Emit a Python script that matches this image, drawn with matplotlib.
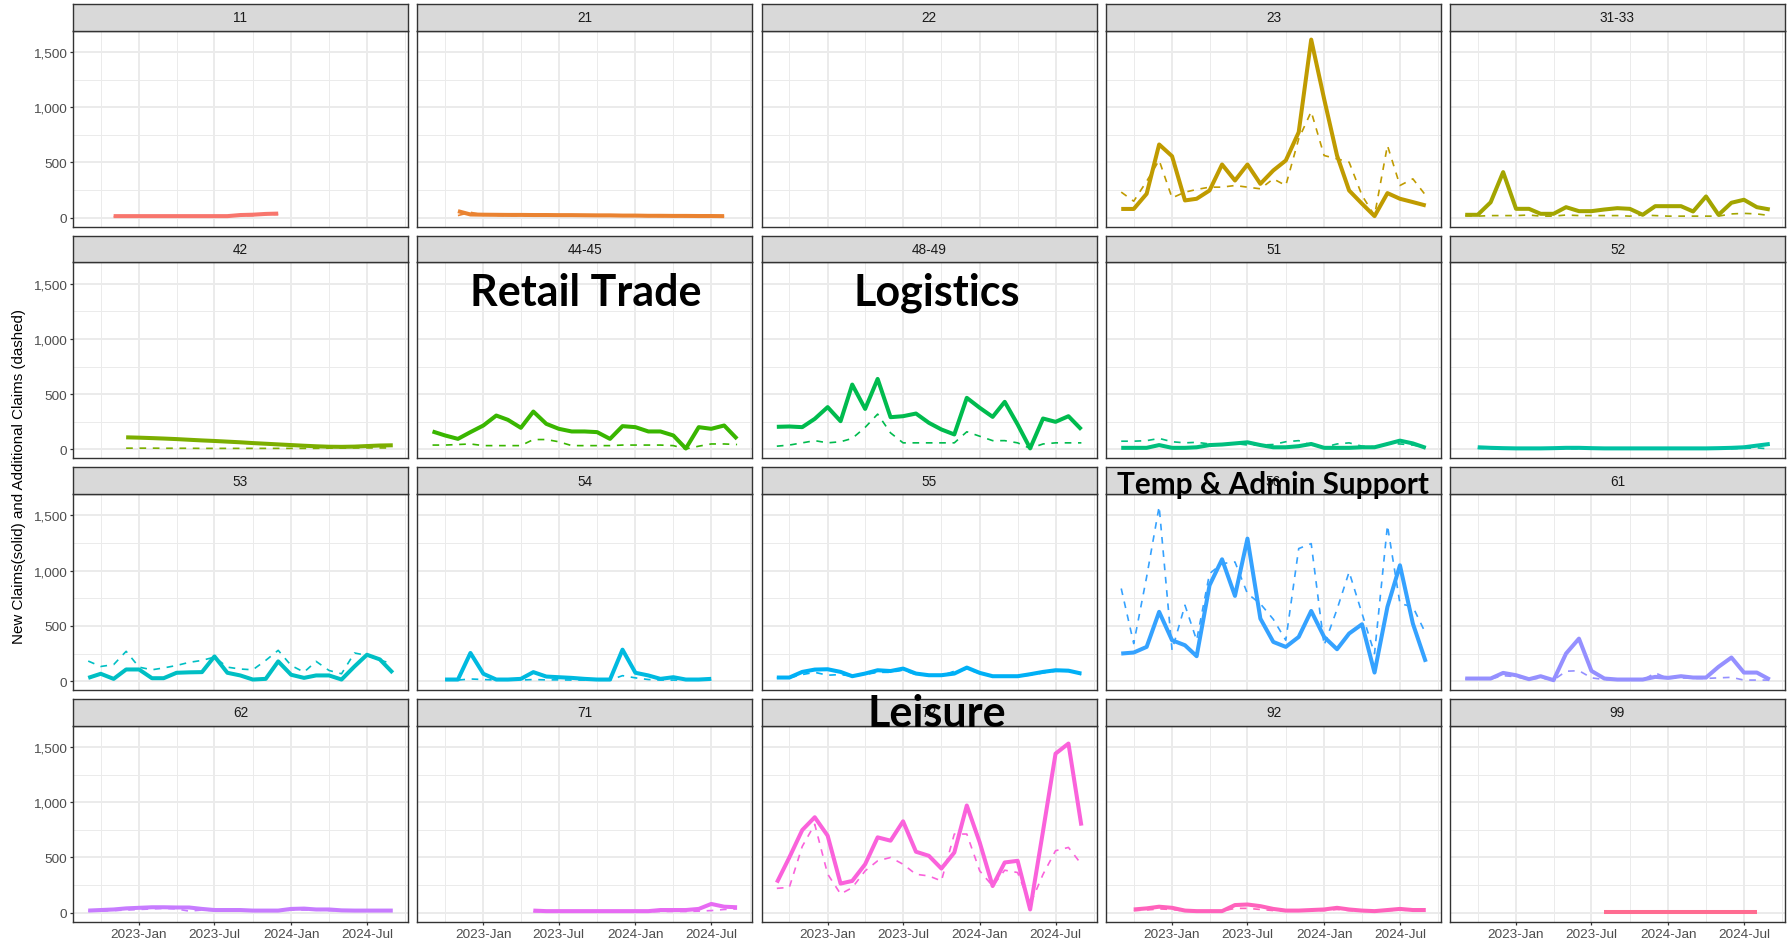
import numpy as np
import pandas as pd
import matplotlib
matplotlib.use('Agg')
import matplotlib.pyplot as plt
import matplotlib.dates as mdates
import matplotlib.ticker as mticker

# monthly claims by NAICS sector, Sep 2022 - Sep 2024
months = pd.date_range('2022-09-01', periods=25, freq='MS').to_numpy()
N = None

new_11 = [N, N, 15, 15, 15, 15, 15, 15, 15, 15, 15, 15, 25, 28, 35, 38, N, N, N, N, N, N, N, N, N]
add_11 = [N, N, 10, 10, 12, 12, 12, 12, 12, 12, 12, 12, 20, 20, 30, 30, N, N, N, N, N, N, N, N, N]

new_21 = [N, N, 60, 30, 28, 27, 26, 26, 25, 25, 24, 24, 23, 22, 22, 20, 20, 18, 18, 17, 17, 16, 16, 15, N]
add_21 = [N, N, 20, 50, 25, 22, 20, 20, 20, 18, 18, 18, 16, 16, 15, 15, 14, 14, 13, 13, 12, 12, 12, 12, N]

new_22 = [N] * 25
add_22 = [N] * 25

new_23 = [80, 80, 217, 663, 557, 157, 172, 247, 482, 337, 482, 307, 428, 518, 774, 1611, 1075, 563, 247, 127, 15, 223, 172, 142, 111]
add_23 = [232, 150, 330, 520, 180, 232, 256, 277, 277, 292, 277, 262, 352, 292, 714, 960, 563, 533, 503, 202, 20, 654, 292, 352, 202]

new_3133 = [27, 27, 140, 413, 81, 81, 36, 36, 96, 60, 60, 75, 87, 81, 27, 105, 105, 105, 57, 193, 27, 136, 163, 96, 75]
add_3133 = [20, 15, 20, 20, 20, 25, 15, 15, 25, 20, 20, 20, 20, 15, 25, 20, 15, 15, 15, 15, 15, 35, 40, 35, 20]

new_42 = [N, N, N, 110, 107, 103, 99, 94, 88, 82, 77, 71, 65, 58, 52, 46, 40, 34, 29, 25, 24, 26, 31, 36, 38]
add_42 = [N, N, N, 12, 12, 12, 11, 11, 11, 10, 10, 10, 10, 10, 10, 10, 10, 10, 10, 12, 12, 14, 14, 14, 14]

new_4445 = [163, 127, 96, 157, 217, 307, 268, 196, 343, 232, 187, 163, 163, 157, 96, 211, 202, 163, 163, 127, 9, 202, 187, 217, 96]
add_4445 = [40, 40, 45, 50, 35, 35, 35, 35, 90, 90, 70, 35, 35, 35, 35, 40, 40, 40, 40, 35, 5, 30, 50, 50, 45]

new_4849 = [205, 208, 202, 277, 383, 256, 587, 367, 638, 292, 301, 325, 241, 181, 136, 467, 377, 295, 431, 226, 10, 280, 250, 301, 181]
add_4849 = [30, 40, 60, 80, 60, 70, 100, 200, 320, 150, 60, 60, 60, 60, 60, 160, 120, 80, 80, 60, 10, 50, 60, 60, 60]

new_51 = [15, 15, 15, 40, 15, 15, 20, 40, 45, 55, 65, 40, 20, 20, 30, 50, 15, 15, 15, 20, 20, 50, 80, 55, 15]
add_51 = [75, 75, 80, 100, 70, 60, 65, 50, 45, 55, 40, 40, 45, 70, 80, 40, 20, 50, 60, 30, 25, 55, 50, 40, 20]

new_52 = [N, 20, 15, 12, 10, 10, 10, 12, 15, 15, 12, 10, 10, 10, 10, 10, 10, 10, 10, 10, 12, 15, 20, 35, 50]
add_52 = [N, 10, 10, 8, 8, 8, 8, 8, 8, 8, 8, 8, 8, 8, 8, 8, 8, 8, 8, 8, 8, 8, 10, 15, 5]

new_53 = [30, 67, 21, 106, 106, 27, 27, 76, 80, 82, 224, 76, 52, 15, 21, 179, 58, 30, 52, 52, 15, 133, 239, 197, 76]
add_53 = [182, 133, 150, 270, 127, 103, 120, 142, 170, 188, 218, 127, 110, 103, 188, 279, 142, 82, 179, 97, 67, 255, 233, 190, 158]

new_54 = [N, 15, 15, 255, 67, 15, 15, 21, 82, 42, 36, 30, 21, 15, 15, 285, 76, 52, 21, 36, 15, 15, 21, N, N]
add_54 = [N, 10, 10, 20, 15, 10, 10, 10, 15, 12, 12, 10, 10, 10, 10, 50, 30, 15, 10, 10, 10, 10, 10, N, N]

new_55 = [33, 33, 84, 105, 108, 84, 45, 69, 99, 92, 114, 69, 54, 54, 69, 123, 75, 45, 45, 45, 63, 84, 99, 95, 69]
add_55 = [30, 30, 60, 80, 54, 60, 45, 60, 80, 80, 100, 60, 50, 50, 90, 110, 70, 45, 45, 45, 55, 75, 90, 90, 60]

new_56 = [250, 259, 310, 627, 370, 325, 226, 867, 1102, 771, 1289, 566, 355, 310, 400, 635, 400, 289, 431, 515, 78, 672, 1048, 521, 175]
add_56 = [838, 340, 943, 1580, 280, 687, 370, 973, 1063, 1078, 792, 700, 560, 370, 1199, 1244, 325, 650, 988, 612, 250, 1409, 702, 672, 430]

new_61 = [24, 24, 24, 75, 54, 18, 45, 9, 250, 385, 93, 24, 15, 15, 15, 39, 30, 45, 33, 33, 130, 214, 78, 78, 15]
add_61 = [20, 20, 20, 50, 40, 15, 30, 10, 90, 95, 30, 15, 10, 10, 10, 75, 25, 30, 25, 25, 30, 35, 10, 10, 10]

new_62 = [20, 25, 30, 40, 45, 50, 50, 48, 48, 35, 25, 25, 25, 20, 20, 20, 35, 38, 30, 30, 22, 20, 20, 20, 20]
add_62 = [15, 15, 20, 25, 30, 35, 40, 35, 15, 25, 20, 20, 20, 15, 15, 15, 25, 25, 25, 20, 18, 15, 15, 15, 15]

new_71 = [N, N, N, N, N, N, N, N, 20, 15, 15, 15, 15, 15, 15, 15, 15, 15, 25, 25, 25, 35, 80, 55, 50]
add_71 = [N, N, N, N, N, N, N, N, 10, 10, 10, 10, 10, 10, 10, 10, 10, 10, 12, 12, 12, 15, 20, 30, 35]

new_72 = [273, 500, 748, 864, 697, 264, 288, 439, 682, 652, 827, 552, 515, 400, 545, 970, 636, 242, 455, 470, 30, 740, 1439, 1530, 788]
add_72 = [221, 230, 600, 800, 350, 170, 227, 379, 470, 500, 439, 348, 333, 288, 712, 712, 379, 242, 385, 364, 76, 348, 561, 591, 439]

new_92 = [N, 30, 40, 55, 45, 20, 15, 15, 15, 70, 75, 60, 35, 20, 20, 25, 30, 45, 30, 20, 15, 25, 35, 25, 25]
add_92 = [N, 20, 25, 35, 30, 15, 10, 10, 15, 40, 40, 30, 20, 15, 15, 20, 20, 30, 20, 15, 12, 20, 25, 20, 20]

new_99 = [N] * 11 + [10] * 13 + [N]
add_99 = [N] * 11 + [8] * 13 + [N]

sectors = ['11', '21', '22', '23', '31-33', '42', '44-45', '48-49', '51', '52',
           '53', '54', '55', '56', '61', '62', '71', '72', '92', '99']
new_claims = [new_11, new_21, new_22, new_23, new_3133, new_42, new_4445, new_4849, new_51, new_52,
              new_53, new_54, new_55, new_56, new_61, new_62, new_71, new_72, new_92, new_99]
add_claims = [add_11, add_21, add_22, add_23, add_3133, add_42, add_4445, add_4849, add_51, add_52,
              add_53, add_54, add_55, add_56, add_61, add_62, add_71, add_72, add_92, add_99]

# ggplot default hue palette for 20 levels
colors = ['#F8766D', '#EA8331', '#D89000', '#C09B00', '#A3A500', '#7CAE00', '#39B600', '#00BB4E',
          '#00BF7D', '#00C1A3', '#00BFC4', '#00BAE0', '#00B0F6', '#35A2FF', '#9590FF', '#C77CFF',
          '#E76BF3', '#FA62DB', '#FF62BC', '#FF6C91']

callouts = [('Retail Trade', 586, 293, 31), ('Logistics', 937, 293, 31),
            ('Temp & Admin Support', 1273, 485, 21.4), ('Leisure', 937, 714, 31)]

W, H = 1791, 945
col_left = [73, 417.3, 761.6, 1106, 1450]
row_top = [5, 236.7, 468.4, 700]
pw, sh, ph = 335, 26.7, 196

plt.rcParams['font.family'] = ['Liberation Sans', 'DejaVu Sans']
fig = plt.figure(figsize=(W / 100, H / 100), dpi=100)

xnum = mdates.date2num(months)
xpad = 0.05 * (xnum[-1] - xnum[0])
ymax = max(max(v for v in s if v is not None) for s in new_claims + add_claims if any(v is not None for v in s))
ypad = 0.05 * ymax

for k, lab in enumerate(sectors):
    r, c = divmod(k, 5)
    x0 = col_left[c]
    top = row_top[r]
    ax = fig.add_axes([x0 / W, 1 - (top + sh + ph) / H, pw / W, ph / H])
    st = fig.add_axes([x0 / W, 1 - (top + sh) / H, pw / W, sh / H])

    new = np.array([np.nan if v is None else v for v in new_claims[k]], dtype=float)
    add = np.array([np.nan if v is None else v for v in add_claims[k]], dtype=float)
    ax.plot(months, new, color=colors[k], lw=2.9, solid_joinstyle='round', solid_capstyle='butt', zorder=3)
    ax.plot(months, add, color=colors[k], lw=1.2, ls=(0, (4, 4)), zorder=3)

    ax.set_xlim(xnum[0] - xpad, xnum[-1] + xpad)
    ax.set_ylim(-ypad, ymax + ypad)
    ax.xaxis.set_major_locator(mdates.MonthLocator(bymonth=[1, 7]))
    ax.xaxis.set_minor_locator(mdates.MonthLocator(bymonth=[4, 10]))
    ax.xaxis.set_major_formatter(mdates.DateFormatter('%Y-%b'))
    ax.yaxis.set_major_locator(mticker.FixedLocator([0, 500, 1000, 1500]))
    ax.yaxis.set_minor_locator(mticker.FixedLocator([250, 750, 1250]))
    ax.yaxis.set_major_formatter(mticker.FuncFormatter(lambda v, p: f'{v:,.0f}'))

    ax.grid(which='major', color='#EBEBEB', lw=1.4, zorder=0)
    ax.grid(which='minor', color='#EBEBEB', lw=0.7, zorder=0)
    ax.set_axisbelow(True)
    for sp in ax.spines.values():
        sp.set_color('#333333')
        sp.set_linewidth(1.0)
    ax.tick_params(which='minor', length=0)
    ax.tick_params(which='major', length=2.5, width=0.9, color='#333333',
                   labelcolor='#4D4D4D', labelsize=9.7, pad=2)
    ax.tick_params(axis='x', bottom=(r == 3), labelbottom=(r == 3))
    ax.tick_params(axis='y', left=(c == 0), labelleft=(c == 0))

    st.set_facecolor('#D9D9D9')
    st.set_xticks([])
    st.set_yticks([])
    for sp in st.spines.values():
        sp.set_color('#333333')
        sp.set_linewidth(1.0)
    st.text(0.5, 0.5, lab, ha='center', va='center', fontsize=9.8, color='#1A1A1A',
            transform=st.transAxes)

fig.text(19 / W, 1 - 477 / H, 'New Claims(solid) and Additional Claims (dashed)',
         rotation=90, ha='center', va='center', fontsize=10.9, color='black')

# sector names written over the facets
for txt, cx, cy, fs in callouts:
    fig.text(cx / W, 1 - cy / H, txt, ha='center', va='center', fontsize=fs,
             fontweight='bold', family=['Lato', 'DejaVu Sans'], color='black')

fig.savefig('out.png', dpi=100, facecolor='white')
